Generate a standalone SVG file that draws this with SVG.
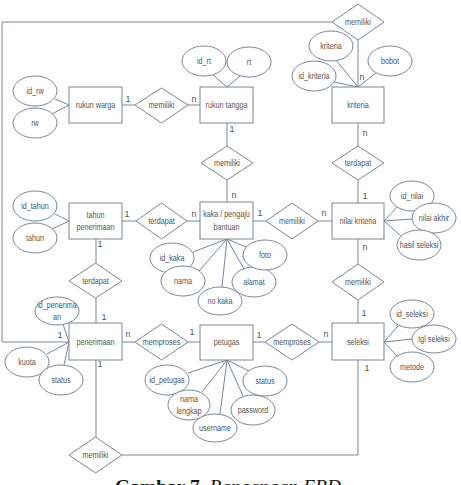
<svg xmlns="http://www.w3.org/2000/svg" width="461" height="485" viewBox="0 0 461 485">
<style>
.e rect,.e ellipse,.e polygon{fill:#fff;stroke:#7b8796;stroke-width:1}
#connectors line,#connectors polyline{stroke:#7b8796;stroke-width:1;fill:none}
text{font-family:"Liberation Sans",Arial,sans-serif;font-size:9px;fill:#555;text-anchor:middle;dominant-baseline:central}
.cap{font-family:"Liberation Serif","Times New Roman",serif;font-size:19.5px;fill:#111;text-anchor:start;dominant-baseline:auto}
</style>
<rect width="461" height="485" fill="#fff"/>
<g id="connectors">
<polyline points="332,22 2,22 2,342 69,342"/>
<line x1="358" y1="40" x2="358" y2="87"/>
<line x1="122" y1="105" x2="135" y2="105"/>
<line x1="188" y1="105" x2="200" y2="105"/>
<line x1="227" y1="123" x2="227" y2="146"/>
<line x1="227" y1="180" x2="227" y2="202"/>
<line x1="358" y1="123" x2="358" y2="146"/>
<line x1="358" y1="180" x2="358" y2="203"/>
<line x1="122" y1="221" x2="136" y2="221"/>
<line x1="187" y1="221" x2="200" y2="221"/>
<line x1="253" y1="221" x2="266" y2="221"/>
<line x1="318" y1="221" x2="332" y2="221"/>
<line x1="96" y1="239" x2="96" y2="263"/>
<line x1="96" y1="298" x2="96" y2="323"/>
<line x1="358" y1="239" x2="358" y2="264"/>
<line x1="358" y1="300" x2="358" y2="323"/>
<line x1="122" y1="342" x2="135" y2="342"/>
<line x1="188" y1="342" x2="200" y2="342"/>
<line x1="253" y1="342" x2="265" y2="342"/>
<line x1="319" y1="342" x2="332" y2="342"/>
<line x1="96" y1="360" x2="96" y2="437"/>
<polyline points="122,455 358,455 358,360"/>
<line x1="55" y1="99" x2="69" y2="105"/>
<line x1="52" y1="114" x2="69" y2="105"/>
<line x1="213" y1="75" x2="227" y2="87"/>
<line x1="240" y1="76" x2="227" y2="87"/>
<line x1="336" y1="60" x2="358" y2="87"/>
<line x1="334" y1="82" x2="358" y2="87"/>
<line x1="376" y1="73" x2="358" y2="87"/>
<line x1="55" y1="214" x2="69" y2="221"/>
<line x1="52" y1="229" x2="69" y2="221"/>
<line x1="193" y1="252" x2="227" y2="239"/>
<line x1="199" y1="271" x2="227" y2="239"/>
<line x1="222" y1="287" x2="227" y2="239"/>
<line x1="244" y1="269" x2="227" y2="239"/>
<line x1="246" y1="247" x2="227" y2="239"/>
<line x1="397" y1="207" x2="384" y2="221"/>
<line x1="412" y1="219" x2="384" y2="221"/>
<line x1="401" y1="236" x2="384" y2="221"/>
<line x1="63" y1="324" x2="69" y2="342"/>
<line x1="47" y1="354" x2="69" y2="342"/>
<line x1="64" y1="365" x2="69" y2="342"/>
<line x1="188" y1="373" x2="227" y2="360"/>
<line x1="202" y1="392" x2="227" y2="360"/>
<line x1="220" y1="414" x2="227" y2="360"/>
<line x1="243" y1="396" x2="227" y2="360"/>
<line x1="249" y1="371" x2="227" y2="360"/>
<line x1="398" y1="326" x2="384" y2="342"/>
<line x1="412" y1="339" x2="384" y2="342"/>
<line x1="397" y1="356" x2="384" y2="342"/>
</g>
<g id="cardinalities">
<text x="128" y="99">1</text>
<text x="194" y="99">n</text>
<text x="232" y="129">1</text>
<text x="234" y="195">n</text>
<text x="362" y="77">n</text>
<text x="365" y="133">n</text>
<text x="365" y="196">1</text>
<text x="365" y="247">n</text>
<text x="364" y="313">1</text>
<text x="127" y="214">1</text>
<text x="194" y="214">n</text>
<text x="260" y="213">1</text>
<text x="324" y="213">n</text>
<text x="100" y="244">1</text>
<text x="104" y="317">1</text>
<text x="60" y="335">1</text>
<text x="128" y="334">n</text>
<text x="192" y="332">1</text>
<text x="259" y="335">1</text>
<text x="326" y="334">n</text>
<text x="367" y="368">1</text>
<text x="100" y="364">1</text>
</g>
<g id="rukun_warga" class="e"><rect x="69" y="87" width="53" height="36"/><text transform="translate(95.5 105) scale(.8 1)">rukun warga</text></g>
<g id="rukun_tangga" class="e"><rect x="200" y="87" width="53" height="36"/><text transform="translate(226.5 105) scale(.8 1)">rukun tangga</text></g>
<g id="kriteria" class="e"><rect x="332" y="87" width="52" height="36"/><text transform="translate(358 105) scale(.8 1)">kriteria</text></g>
<g id="tahun_penerimaan" class="e"><rect x="69" y="203" width="53" height="36"/><text transform="translate(95.5 215) scale(.8 1)">tahun</text><text transform="translate(95.5 227) scale(.8 1)">penerimaan</text></g>
<g id="kaka" class="e"><rect x="200" y="202" width="53" height="37"/><text transform="translate(226.5 214) scale(.8 1)">kaka / pengaju</text><text transform="translate(226.5 227) scale(.8 1)">bantuan</text></g>
<g id="nilai_kriteria" class="e"><rect x="332" y="203" width="52" height="36"/><text transform="translate(358 221) scale(.8 1)">nilai kriteria</text></g>
<g id="penerimaan" class="e"><rect x="69" y="323" width="53" height="37"/><text transform="translate(95.5 342) scale(.8 1)">penerimaan</text></g>
<g id="petugas" class="e"><rect x="200" y="325" width="53" height="35"/><text transform="translate(226.5 342) scale(.8 1)">petugas</text></g>
<g id="seleksi" class="e"><rect x="332" y="323" width="52" height="37"/><text transform="translate(358 342) scale(.8 1)">seleksi</text></g>
<g id="rel_top" class="e"><polygon points="332,22 358,4 384,22 358,40"/><text transform="translate(358 22) scale(.8 1)">memiliki</text></g>
<g id="rel_rw_rt" class="e"><polygon points="135,105 161.5,88 188,105 161.5,123"/><text transform="translate(161.5 105) scale(.8 1)">memiliki</text></g>
<g id="rel_rt_kaka" class="e"><polygon points="201,163 227,146 253,163 227,180"/><text transform="translate(227 163) scale(.8 1)">memiliki</text></g>
<g id="rel_kr_nilai" class="e"><polygon points="332,163 358,146 384,163 358,180"/><text transform="translate(358 163) scale(.8 1)">terdapat</text></g>
<g id="rel_th_kaka" class="e"><polygon points="136,221 161.5,203 187,221 161.5,239"/><text transform="translate(161.5 221) scale(.8 1)">terdapat</text></g>
<g id="rel_kaka_nilai" class="e"><polygon points="266,221 292,203 318,221 292,239"/><text transform="translate(292 221) scale(.8 1)">memiliki</text></g>
<g id="rel_th_pen" class="e"><polygon points="69,281 95.5,263 122,281 95.5,298"/><text transform="translate(95.5 281) scale(.8 1)">terdapat</text></g>
<g id="rel_nilai_sel" class="e"><polygon points="332,282 358,264 384,282 358,300"/><text transform="translate(358 282) scale(.8 1)">memiliki</text></g>
<g id="rel_pen_pet" class="e"><polygon points="135,342 161.5,324 188,342 161.5,360"/><text transform="translate(161.5 342) scale(.8 1)">memproses</text></g>
<g id="rel_pet_sel" class="e"><polygon points="265,342 292,324 319,342 292,360"/><text transform="translate(292 342) scale(.8 1)">memproses</text></g>
<g id="rel_bottom" class="e"><polygon points="69,455 95.5,437 122,455 95.5,473"/><text transform="translate(95.5 455) scale(.8 1)">memiliki</text></g>
<g id="a_id_rw" class="e"><ellipse cx="35" cy="91" rx="22" ry="15"/><text transform="translate(35 91) scale(.8 1)">id_rw</text></g>
<g id="a_rw" class="e"><ellipse cx="35" cy="123" rx="22" ry="15"/><text transform="translate(35 123) scale(.8 1)">rw</text></g>
<g id="a_id_rt" class="e"><ellipse cx="204" cy="61" rx="22" ry="15"/><text transform="translate(204 61) scale(.8 1)">id_rt</text></g>
<g id="a_rt" class="e"><ellipse cx="249" cy="62" rx="22" ry="15"/><text transform="translate(249 62) scale(.8 1)">rt</text></g>
<g id="a_kriteria" class="e"><ellipse cx="331" cy="46" rx="22" ry="15"/><text transform="translate(331 46) scale(.8 1)">kriteria</text></g>
<g id="a_id_kriteria" class="e"><ellipse cx="314" cy="76" rx="22" ry="15"/><text transform="translate(314 76) scale(.8 1)">id_kriteria</text></g>
<g id="a_bobot" class="e"><ellipse cx="390" cy="61" rx="22" ry="15"/><text transform="translate(390 61) scale(.8 1)">bobot</text></g>
<g id="a_id_tahun" class="e"><ellipse cx="35" cy="206" rx="22" ry="15"/><text transform="translate(35 206) scale(.8 1)">id_tahun</text></g>
<g id="a_tahun" class="e"><ellipse cx="35" cy="238" rx="22" ry="15"/><text transform="translate(35 238) scale(.8 1)">tahun</text></g>
<g id="a_id_kaka" class="e"><ellipse cx="172" cy="258" rx="22" ry="15"/><text transform="translate(172 258) scale(.8 1)">id_kaka</text></g>
<g id="a_nama" class="e"><ellipse cx="183" cy="281" rx="22" ry="15"/><text transform="translate(183 281) scale(.8 1)">nama</text></g>
<g id="a_no_kaka" class="e"><ellipse cx="220" cy="301" rx="22" ry="14"/><text transform="translate(220 301) scale(.8 1)">no kaka</text></g>
<g id="a_alamat" class="e"><ellipse cx="254" cy="282" rx="22" ry="15"/><text transform="translate(254 282) scale(.8 1)">alamat</text></g>
<g id="a_foto" class="e"><ellipse cx="265" cy="255" rx="22" ry="15"/><text transform="translate(265 255) scale(.8 1)">foto</text></g>
<g id="a_id_nilai" class="e"><ellipse cx="412" cy="196" rx="22" ry="15"/><text transform="translate(412 196) scale(.8 1)">id_nilai</text></g>
<g id="a_nilai_akhir" class="e"><ellipse cx="434" cy="218" rx="22" ry="15"/><text transform="translate(434 218) scale(.8 1)">nilai akhir</text></g>
<g id="a_hasil_seleksi" class="e"><ellipse cx="419" cy="245" rx="22" ry="15"/><text transform="translate(419 245) scale(.8 1)">hasil seleksi</text></g>
<g id="a_id_penerimaan" class="e"><ellipse cx="57" cy="311" rx="22" ry="14"/><text transform="translate(57 305) scale(.8 1)">id_penerima</text><text transform="translate(57 317) scale(.8 1)">an</text></g>
<g id="a_kuota" class="e"><ellipse cx="27" cy="362" rx="22" ry="15"/><text transform="translate(27 362) scale(.8 1)">kuota</text></g>
<g id="a_status_pen" class="e"><ellipse cx="61" cy="380" rx="22" ry="15"/><text transform="translate(61 380) scale(.8 1)">status</text></g>
<g id="a_id_petugas" class="e"><ellipse cx="167" cy="380" rx="22" ry="15"/><text transform="translate(167 380) scale(.8 1)">id_petugas</text></g>
<g id="a_nama_lengkap" class="e"><ellipse cx="189" cy="405" rx="21" ry="15"/><text transform="translate(189 399) scale(.8 1)">nama</text><text transform="translate(189 411) scale(.8 1)">lengkap</text></g>
<g id="a_username" class="e"><ellipse cx="215" cy="428" rx="22" ry="14"/><text transform="translate(215 428) scale(.8 1)">username</text></g>
<g id="a_password" class="e"><ellipse cx="253" cy="410" rx="22" ry="15"/><text transform="translate(253 410) scale(.8 1)">password</text></g>
<g id="a_status_pet" class="e"><ellipse cx="265" cy="381" rx="22" ry="15"/><text transform="translate(265 381) scale(.8 1)">status</text></g>
<g id="a_id_seleksi" class="e"><ellipse cx="412" cy="314" rx="22" ry="14"/><text transform="translate(412 314) scale(.8 1)">id_seleksi</text></g>
<g id="a_tgl_seleksi" class="e"><ellipse cx="434" cy="339" rx="22" ry="14"/><text transform="translate(434 339) scale(.8 1)">tgl seleksi</text></g>
<g id="a_metode" class="e"><ellipse cx="412" cy="367" rx="22" ry="15"/><text transform="translate(412 367) scale(.8 1)">metode</text></g>
<text class="cap" x="115" y="493"><tspan font-weight="bold">Gambar 7.</tspan> <tspan font-style="italic">Rancangan ERD</tspan></text>
</svg>
